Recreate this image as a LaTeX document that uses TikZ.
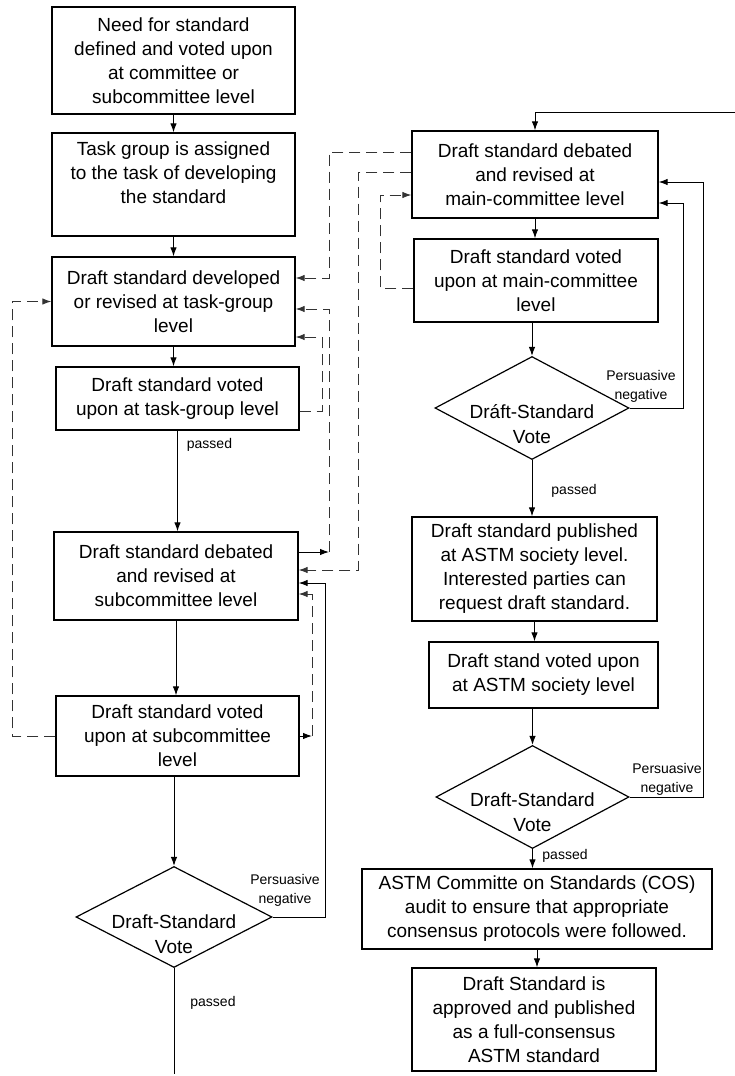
\documentclass[tikz,border=0pt]{standalone}
\usepackage{fontspec}
\setmainfont{Liberation Sans}
\usetikzlibrary{shapes.geometric,arrows.meta,calc}
\begin{document}
\begin{tikzpicture}[x=1pt,y=-1pt,
  box/.style={draw, line width=1.3pt, align=center, inner sep=0pt, font=\fontsize{19}{24}\selectfont},
  dia/.style={draw, diamond, line width=1.2pt, inner sep=0pt},
  txt/.style={align=center, inner sep=0pt, font=\fontsize{19}{25}\selectfont},
  lbl/.style={align=center, inner sep=0pt, font=\fontsize{14}{19}\selectfont},
  arr/.style={line width=1pt, -{Latex[length=9pt,width=6.5pt]}},
  ln/.style={line width=1pt},
  dsh/.style={line width=1pt, dash pattern=on 11pt off 6pt, black!80, -{Latex[length=9pt,width=6.5pt]}},
]
\useasboundingbox (0,0) rectangle (735,1076);

% left column
\node[box, minimum width=243pt, minimum height=107pt] (b1) at (173.5,60.5) {Need for standard\\defined and voted upon\\at committee or\\subcommittee level};
\node[box, minimum width=243pt, minimum height=103pt] (b2) at (173.5,184.5) {Task group is assigned\\to the task of developing\\the standard\\\mbox{}};
\node[box, minimum width=243pt, minimum height=89pt] (b3) at (173.5,301.5) {Draft standard developed\\or revised at task-group\\level};
\node[box, minimum width=243pt, minimum height=63pt] (b4) at (177.5,398.5) {Draft standard voted\\upon at task-group level};
\node[box, minimum width=244pt, minimum height=88pt] (b5) at (176,576) {Draft standard debated\\and revised at\\subcommittee level};
\node[box, minimum width=243pt, minimum height=80pt] (b6) at (177.5,736) {Draft standard voted\\upon at subcommittee\\level};
\node[dia, minimum width=196pt, minimum height=101pt] (d1) at (174,917) {};
\node[txt] (d1t) at (174,934) {Draft-Standard\\Vote};

% right column
\node[box, minimum width=246pt, minimum height=87pt] (r1) at (535,174.5) {Draft standard debated\\and revised at\\main-committee level};
\node[box, minimum width=244pt, minimum height=83pt] (r2) at (536,280.5) {Draft standard voted\\upon at main-committee\\level};
\node[dia, minimum width=194pt, minimum height=103pt] (d2) at (532,408) {};
\node[txt] (d2t) at (532,424) {Dráft-Standard\\Vote};
\node[box, minimum width=245pt, minimum height=104pt] (r3) at (534.5,569) {Draft standard published\\at ASTM society level.\\Interested parties can\\request draft standard.};
\node[box, minimum width=229pt, minimum height=66pt] (r4) at (543.5,675) {Draft stand voted upon\\at ASTM society level};
\node[dia, minimum width=193pt, minimum height=103pt] (d3) at (532.5,797) {};
\node[txt] (d3t) at (532.5,812) {Draft-Standard\\Vote};
\node[box, minimum width=350pt, minimum height=80pt] (r5) at (537,909) {ASTM Committe on Standards (COS)\\audit to ensure that appropriate\\consensus protocols were followed.};
\node[box, minimum width=244pt, minimum height=103pt] (r6) at (534,1019.5) {Draft Standard is\\approved and published\\as a full-consensus\\ASTM standard};

% labels
\node[lbl] (p1) at (209.5,445) {passed};
\node[lbl] (p2) at (213,1003) {passed};
\node[lbl] (n1) at (285,890) {Persuasive\\negative};
\node[lbl] (n2) at (641,386) {Persuasive\\negative};
\node[lbl] (n3) at (667,779) {Persuasive\\negative};
\node[lbl] (p3) at (574,491) {passed};
\node[lbl] (p4) at (565,856) {passed};

% free ends
\coordinate (topin) at (735,112);
\coordinate (endL) at (174,1074);
\coordinate (c7) at (329,552);
\coordinate (c9) at (312,736);

% left main flow
\draw[arr] (b1.south) -- (b2.north);
\draw[arr] (b2.south) -- (b3.north);
\draw[arr] (b3.south) -- (b3.south |- b4.north);
\draw[arr] (b4.south) -- (b4.south |- b5.north);
\draw[arr] (b5.south) -- (b5.south |- b6.north);
\draw[arr] (d1.north |- b6.south) -- (d1.north);
\draw[ln] (d1.south) -- (endL);
\draw[arr] (d1.east) -| (325,583) -- ([yshift=-7pt]b5.east);

% dashed feedback loops
\draw[dsh] (b6.west) -| (12,301.5) -- (b3.west);
\draw[dsh] ([yshift=-12.5pt]b4.east) -| (322,337) -- ([yshift=-35.5pt]b3.east);
\draw[dsh] ([yshift=22.5pt]r1.west) -| (329,278) -- ([yshift=23.5pt]b3.east);
\draw[arr] ([yshift=24pt]b5.east) -- (c7);
\draw[dsh] (c7) -- (329,309) -- ([yshift=-7.5pt]b3.east);
\draw[dsh] ([yshift=2.5pt]r1.west) -| (358,570) -- ([yshift=6pt]b5.east);
\draw[arr] (b6.east) -- (c9);
\draw[dsh] (c9) -- (312,594) -- ([yshift=-18pt]b5.east);
\draw[dsh] ([yshift=-7.5pt]r2.west) -| (380,195) -- ([yshift=-20.5pt]r1.west);

% right main flow
\draw[arr] (topin) -| (r1.north);
\draw[arr] (r1.south) -- (r1.south |- r2.north);
\draw[arr] (d2.north |- r2.south) -- (d2.north);
\draw[arr] (d2.south) -- (d2.south |- r3.north);
\draw[arr] (r3.south) -- (r3.south |- r4.north);
\draw[arr] (d3.north |- r4.south) -- (d3.north);
\draw[arr] (d3.south) -- (d3.south |- r5.north);
\draw[arr] (r5.south) -- (r5.south |- r6.north);
\draw[arr] (d2.east) -| (683,203) -- ([yshift=-28.5pt]r1.east);
\draw[arr] (d3.east) -| (703,182) -- ([yshift=-7.5pt]r1.east);
\end{tikzpicture}
\end{document}
